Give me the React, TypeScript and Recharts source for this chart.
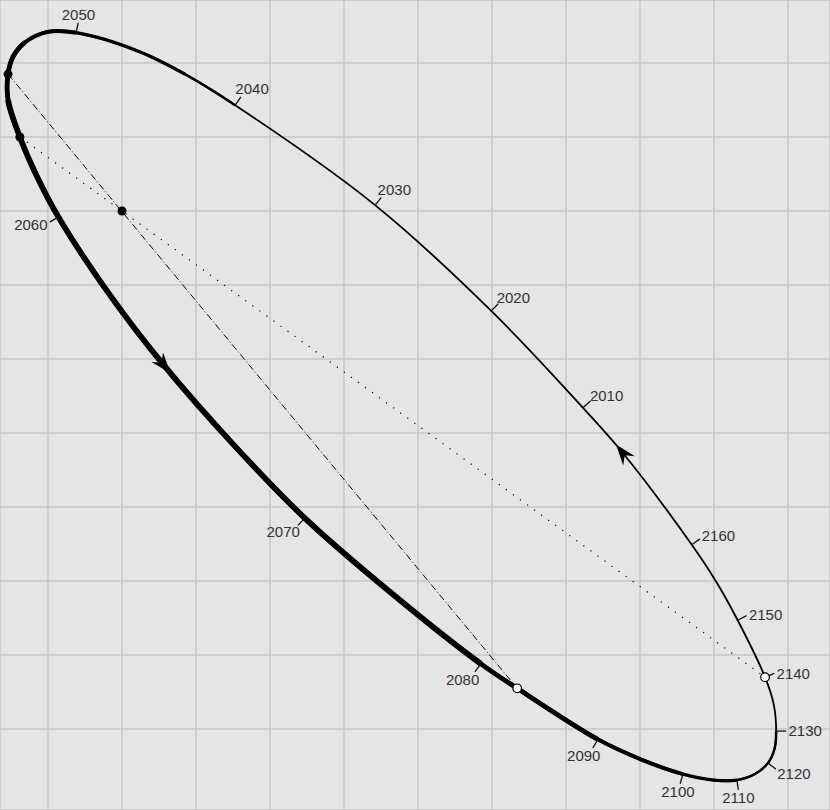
import React from "react";
import { ComposedChart, Line, Scatter, XAxis, YAxis, CartesianGrid } from "recharts";

/* eslint-disable @typescript-eslint/no-explicit-any */

interface Pt {
  x: number;
  y: number;
}

// apparent orbit, grid units, primary star at 0,0
// listed in time order, starting at the 2010 mark
const orbit: Pt[] = [
  { x: 6.23, y: -2.66 }, { x: 4.99, y: -1.35 }, { x: 3.42, y: 0.08 }, { x: 1.53, y: 1.43 },
  { x: 0.85, y: 1.85 }, { x: 0.22, y: 2.16 }, { x: -0.62, y: 2.41 }, { x: -1.01, y: 2.42 },
  { x: -1.31, y: 2.28 }, { x: -1.47, y: 2.09 }, { x: -1.54, y: 1.85 }, { x: -1.54, y: 1.5 },
  { x: -1.38, y: 1.0 }, { x: -1.16, y: 0.49 }, { x: -0.86, y: -0.08 }, { x: -0.16, y: -1.14 },
  { x: 0.57, y: -2.09 }, { x: 1.5, y: -3.15 }, { x: 2.47, y: -4.15 }, { x: 3.66, y: -5.18 },
  { x: 4.85, y: -6.12 }, { x: 5.34, y: -6.45 }, { x: 6.43, y: -7.14 }, { x: 7.01, y: -7.41 },
  { x: 7.58, y: -7.61 }, { x: 7.99, y: -7.69 }, { x: 8.31, y: -7.69 }, { x: 8.55, y: -7.61 },
  { x: 8.73, y: -7.46 }, { x: 8.82, y: -7.26 }, { x: 8.84, y: -7.03 }, { x: 8.81, y: -6.68 },
  { x: 8.69, y: -6.3 }, { x: 8.32, y: -5.53 }, { x: 8.03, y: -5.01 }, { x: 7.7, y: -4.51 },
  { x: 6.76, y: -3.26 },
];

const yearLabels = [2010, 2020, 2030, 2040, 2050, 2060, 2070, 2080, 2090, 2100, 2110, 2120, 2130, 2140, 2150, 2160];
// where each year mark sits in the orbit list
const yearAt = [0, 1, 2, 3, 6, 14, 18, 20, 22, 24, 26, 28, 30, 32, 33, 35];

const primary: Pt[] = [{ x: 0, y: 0 }];
const nodeAt = [10, 21]; // line of nodes (dash-dot)
const apseAt = [12, 32]; // line of apsides (dotted)
const arrowAt = [16, 36];

const xTicks = [-1, 0, 1, 2, 3, 4, 5, 6, 7, 8, 9];
const yTicks = [-8, -7, -6, -5, -4, -3, -2, -1, 0, 1, 2];

// line weight along the orbit (near side drawn heavier)
const weightBands = [
  { from: 3, to: 30, width: 2.5 },
  { from: 4, to: 26, width: 3.3 },
  { from: 6, to: 24, width: 4.0 },
  { from: 8, to: 22, width: 4.8 },
  { from: 11, to: 20, width: 5.7 },
];

const at = (i: number) => orbit[(i + orbit.length) % orbit.length];

// screen-space tangent and outward normal from neighbouring orbit points
const direction = (i: number) => {
  const a = at(i - 1);
  const b = at(i + 1);
  const tx = b.x - a.x;
  const ty = -(b.y - a.y);
  const len = Math.hypot(tx, ty) || 1;
  return { ux: tx / len, uy: ty / len, nx: -ty / len, ny: tx / len };
};

const yearRows = yearLabels.map((year, k) => ({ ...at(yearAt[k]), year, ...direction(yearAt[k]) }));
const arrowRows = arrowAt.map((i) => ({ ...at(i), ...direction(i) }));
const filledDots = [at(nodeAt[0]), at(apseAt[0]), ...primary];
const openDots = [at(nodeAt[1]), at(apseAt[1])];

// centripetal catmull-rom, closed loop or an open run whose end points only steer the tangents
type P2 = [number, number];
const controls = (p0: P2, p1: P2, p2: P2, p3: P2): [P2, P2] => {
  const l01a = Math.pow(Math.hypot(p1[0] - p0[0], p1[1] - p0[1]), 0.5);
  const l12a = Math.pow(Math.hypot(p2[0] - p1[0], p2[1] - p1[1]), 0.5);
  const l23a = Math.pow(Math.hypot(p3[0] - p2[0], p3[1] - p2[1]), 0.5);
  const l01b = l01a * l01a;
  const l12b = l12a * l12a;
  const l23b = l23a * l23a;
  let c1: P2 = [p1[0], p1[1]];
  let c2: P2 = [p2[0], p2[1]];
  if (l01a > 1e-6) {
    const a = 2 * l01b + 3 * l01a * l12a + l12b;
    const n = 3 * l01a * (l01a + l12a);
    c1 = [(p1[0] * a - p0[0] * l12b + p2[0] * l01b) / n, (p1[1] * a - p0[1] * l12b + p2[1] * l01b) / n];
  }
  if (l23a > 1e-6) {
    const b = 2 * l23b + 3 * l23a * l12a + l12b;
    const m = 3 * l23a * (l23a + l12a);
    c2 = [(p2[0] * b + p1[0] * l23b - p3[0] * l12b) / m, (p2[1] * b + p1[1] * l23b - p3[1] * l12b) / m];
  }
  return [c1, c2];
};

const makeCurve = (closed: boolean) => (context: any) => {
  let pts: P2[] = [];
  return {
    areaStart() {},
    areaEnd() {},
    lineStart() {
      pts = [];
    },
    point(x: number, y: number) {
      pts.push([+x, +y]);
    },
    lineEnd() {
      const n = pts.length;
      if (n < 3) return;
      const get = (i: number) => (closed ? pts[(i + n) % n] : pts[Math.max(0, Math.min(n - 1, i))]);
      const first = closed ? 0 : 1;
      const last = closed ? n : n - 2;
      context.moveTo(get(first)[0], get(first)[1]);
      for (let i = first; i < last; i++) {
        const [c1, c2] = controls(get(i - 1), get(i), get(i + 1), get(i + 2));
        const p = get(i + 1);
        context.bezierCurveTo(c1[0], c1[1], c2[0], c2[1], p[0], p[1]);
      }
      if (closed) context.closePath();
    },
  };
};

const loopCurve = makeCurve(true);
const runCurve = makeCurve(false);

const FONT = "'Liberation Sans', Arial, Helvetica, sans-serif";
const lean = (v: number, dead: number, gain: number) =>
  Math.sign(v) * Math.max(0, Math.min(1, (Math.abs(v) - dead) * gain));

const YearMark = (props: any) => {
  const { cx, cy, payload } = props;
  if (cx == null || cy == null) return null;
  const ex = cx + payload.nx * 10;
  const ey = cy + payload.ny * 10;
  const tx = ex + lean(payload.nx, 0.2, 1.6) * 19;
  const ty = ey + lean(payload.ny, 0.4, 2.5) * 8;
  return (
    <g>
      <line x1={cx} y1={cy} x2={ex} y2={ey} stroke="#111" strokeWidth={1.3} />
      <text x={tx} y={ty + 5.4} textAnchor="middle" fontSize={15} fill="#333" fontFamily={FONT}>
        {payload.year}
      </text>
    </g>
  );
};

const ArrowHead = (props: any) => {
  const { cx, cy, payload } = props;
  if (cx == null || cy == null) return null;
  const { ux, uy } = payload;
  const px = -uy;
  const py = ux;
  const hx = cx + ux * 10;
  const hy = cy + uy * 10;
  const d =
    `M${hx},${hy}` +
    `L${hx - ux * 21 + px * 7.5},${hy - uy * 21 + py * 7.5}` +
    `L${hx - ux * 14},${hy - uy * 14}` +
    `L${hx - ux * 21 - px * 7.5},${hy - uy * 21 - py * 7.5}Z`;
  return <path d={d} fill="#000" />;
};

const FilledDot = (props: any) =>
  props.cx == null ? null : <circle cx={props.cx} cy={props.cy} r={4.5} fill="#000" />;

const OpenDot = (props: any) =>
  props.cx == null ? null : (
    <circle cx={props.cx} cy={props.cy} r={4.3} fill="#fff" stroke="#000" strokeWidth={1.2} />
  );

const App: React.FC = () => {
  return (
    <div style={{ position: "absolute", left: 0, top: 0, width: 830, height: 810, background: "#e5e5e5" }}>
      <ComposedChart width={830} height={810} margin={{ top: 0, right: 0, bottom: 0, left: 0 }}>
        <CartesianGrid stroke="#c4c4c4" strokeWidth={1.4} fill="#e5e5e5" />
        <XAxis
          type="number"
          dataKey="x"
          domain={[-1.6486, 9.5676]}
          ticks={xTicks}
          allowDataOverflow
          hide
        />
        <YAxis type="number" dataKey="y" domain={[-8.0946, 2.8514]} ticks={yTicks} allowDataOverflow hide />

        <Line
          data={[at(nodeAt[0]), at(nodeAt[1])]}
          dataKey="y"
          type="linear"
          stroke="#000"
          strokeWidth={1}
          strokeDasharray="7 2.5 1 2.5"
          dot={false}
          activeDot={false}
          isAnimationActive={false}
        />
        <Line
          data={[at(apseAt[0]), at(apseAt[1])]}
          dataKey="y"
          type="linear"
          stroke="#000"
          strokeWidth={1.2}
          strokeDasharray="1.2 7.5"
          dot={false}
          activeDot={false}
          isAnimationActive={false}
        />

        <Line
          data={orbit}
          dataKey="y"
          type={loopCurve as any}
          stroke="#000"
          strokeWidth={1.8}
          dot={false}
          activeDot={false}
          isAnimationActive={false}
        />
        {weightBands.map((b) => (
          <Line
            key={b.width}
            data={orbit.slice(b.from - 1, b.to + 2)}
            dataKey="y"
            type={runCurve as any}
            stroke="#000"
            strokeWidth={b.width}
            dot={false}
            activeDot={false}
            isAnimationActive={false}
          />
        ))}

        <Scatter data={yearRows} dataKey="y" shape={(p: any) => <YearMark {...p} />} isAnimationActive={false} />
        <Scatter data={arrowRows} dataKey="y" shape={(p: any) => <ArrowHead {...p} />} isAnimationActive={false} />
        <Scatter data={filledDots} dataKey="y" shape={(p: any) => <FilledDot {...p} />} isAnimationActive={false} />
        <Scatter data={openDots} dataKey="y" shape={(p: any) => <OpenDot {...p} />} isAnimationActive={false} />
      </ComposedChart>
    </div>
  );
};

export default App;
